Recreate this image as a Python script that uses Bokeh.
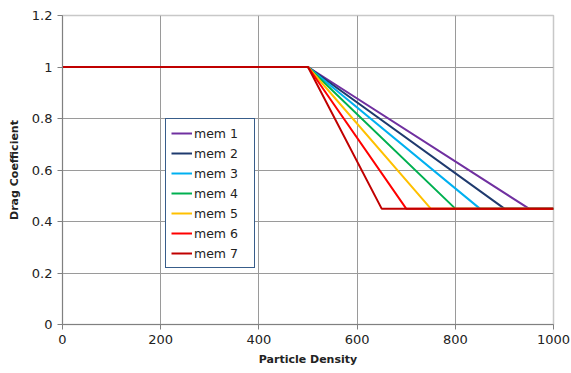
from bokeh.plotting import figure
from bokeh.models import Legend, LegendItem, FixedTicker
from bokeh.embed import file_html
from bokeh.resources import INLINE

# Data
series_names = ["mem 1", "mem 2", "mem 3", "mem 4", "mem 5", "mem 6", "mem 7"]
colors = ["#7030A0", "#1F3A6E", "#00B0F0", "#00B050", "#FFC000", "#FF0000", "#C00000"]
x_start = [0, 0, 0, 0, 0, 0, 0]
x_knee = [500, 500, 500, 500, 500, 500, 500]
x_floor = [950, 900, 850, 800, 750, 700, 650]
x_end = [1000, 1000, 1000, 1000, 1000, 1000, 1000]
y_high = [1.0, 1.0, 1.0, 1.0, 1.0, 1.0, 1.0]
y_low = [0.45, 0.45, 0.45, 0.45, 0.45, 0.45, 0.45]
x_ticks = [0, 200, 400, 600, 800, 1000]
y_ticks = [0, 0.2, 0.4, 0.6, 0.8, 1.0, 1.2]

FONT = "DejaVu Sans"

p = figure(width=571, height=373, output_backend="svg", toolbar_location=None,
           x_range=(0, 1000), y_range=(0, 1.2),
           min_border_left=62, min_border_right=18, min_border_top=15, min_border_bottom=49)

items = []
for i, name in enumerate(series_names):
    xs = [x_start[i], x_knee[i], x_floor[i], x_end[i]]
    ys = [y_high[i], y_high[i], y_low[i], y_low[i]]
    r = p.line(xs, ys, line_color=colors[i], line_width=2)
    items.append(LegendItem(label=name, renderers=[r]))

legend = Legend(items=items, location=(103, 56), label_text_font=FONT,
                label_text_font_size="12.5px", label_text_color="#222222",
                border_line_color="#385D8A", border_line_width=1.5, border_line_alpha=1,
                background_fill_alpha=1, padding=5, spacing=2,
                label_height=18, glyph_height=18, glyph_width=21,
                label_width=55, label_standoff=2, margin=0)
p.add_layout(legend, "center")

p.xaxis.ticker = FixedTicker(ticks=x_ticks)
p.yaxis.ticker = FixedTicker(ticks=y_ticks)
p.yaxis.major_label_overrides = {0: "0", 0.2: "0.2", 0.4: "0.4", 0.6: "0.6", 0.8: "0.8", 1.0: "1", 1.2: "1.2"}

for ax in (p.xaxis, p.yaxis):
    ax.major_label_text_font = FONT
    ax.major_label_text_font_size = "13px"
    ax.major_label_text_color = "#222222"
    ax.axis_label_text_font = FONT
    ax.axis_label_text_font_size = "11px"
    ax.axis_label_text_font_style = "bold"
    ax.axis_label_text_color = "#222222"
    ax.axis_line_color = "#808080"
    ax.major_tick_line_color = "#808080"
    ax.major_tick_out = 5
    ax.major_tick_in = 0
    ax.minor_tick_line_color = None

p.xaxis.axis_label = "Particle Density"
p.yaxis.axis_label = "Drag Coefficient"
p.xaxis.axis_label_standoff = 6
p.yaxis.axis_label_standoff = 8

p.xgrid.grid_line_color = "#9a9a9a"
p.ygrid.grid_line_color = "#9a9a9a"
p.outline_line_color = "#c8c8c8"
p.outline_line_width = 1.5
p.background_fill_color = "white"
p.border_fill_color = "white"

open("out.html", "w").write(file_html(p, INLINE))
